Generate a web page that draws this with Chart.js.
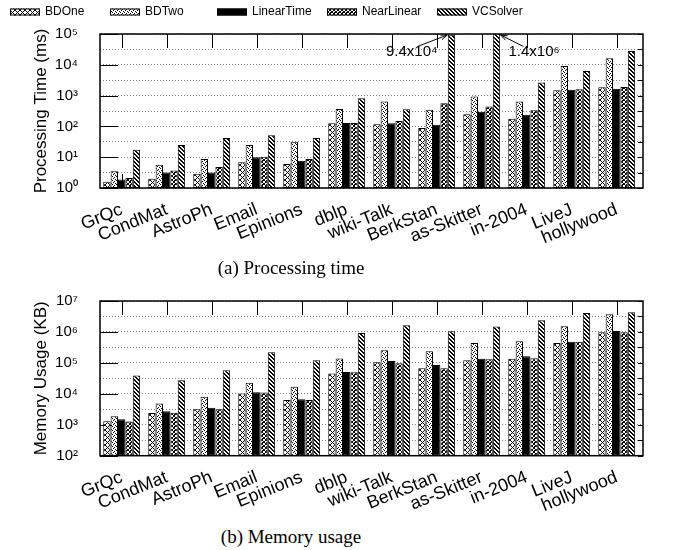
<!DOCTYPE html>
<html><head><meta charset="utf-8">
<script src="https://cdn.jsdelivr.net/npm/chart.js@4.4.1/dist/chart.umd.min.js"></script>
<style>
html,body{margin:0;padding:0;background:#fff;}
#wrap{position:relative;width:694px;height:550px;overflow:hidden;background:#fff;}
canvas{position:absolute;left:0;}
#c1{top:0;}
#c2{top:270px;}
.cap{position:absolute;left:0;width:582px;text-align:center;font-family:"Liberation Serif","Times New Roman",serif;font-size:19px;line-height:22px;color:#000;}
</style></head>
<body><div id="wrap">
<canvas id="c1" width="694" height="270"></canvas>
<canvas id="c2" width="694" height="250"></canvas>
<div class="cap" style="top:257px">(a) Processing time</div>
<div class="cap" style="top:526px">(b) Memory usage</div>
</div>
<script>
// ---------- data ----------
const categories = ['GrQc','CondMat','AstroPh','Email','Epinions','dblp','wiki-Talk','BerkStan','as-Skitter','in-2004','LiveJ','hollywood'];
const seriesNames = ['BDOne','BDTwo','LinearTime','NearLinear','VCSolver'];

const timeBDOne   = [1.6, 2.0, 2.9, 6.9, 6.0, 127, 118, 88, 250, 176, 1500, 1870];
const timeBDTwo   = [3.5, 5.7, 8.7, 25, 32, 370, 640, 345, 930, 640, 9200, 16300];
const timeLinear  = [1.9, 3.2, 3.2, 9.9, 7.7, 130, 127, 113, 298, 238, 1540, 1660];
const timeNear    = [2.1, 3.7, 4.8, 10.4, 8.7, 130, 151, 568, 443, 336, 1620, 1910];
const timeVC      = [17.5, 25, 42, 52, 42, 820, 362, 94000, 1400000, 2650, 6330, 28000];

const memBDOne    = [1310, 2380, 3200, 10300, 6260, 45000, 105000, 67000, 122000, 135000, 440000, 980000];
const memBDTwo    = [1900, 4890, 8000, 23000, 16800, 138000, 257000, 238000, 440000, 500000, 1520000, 3700000];
const memLinear   = [1520, 2750, 3530, 11300, 6700, 51000, 116000, 86000, 135000, 164000, 480000, 1070000];
const memNear     = [1280, 2440, 3200, 11000, 6260, 50000, 98000, 67000, 132000, 142000, 480000, 980000];
const memVC       = [39000, 27700, 57700, 220000, 122000, 930000, 1640000, 1050000, 1500000, 2380000, 4100000, 4300000];

const timeTicks = [1, 10, 100, 1000, 10000, 100000];
const timeTickLabels = ['10⁰','10¹','10²','10³','10⁴','10⁵'];
const memTicks = [100, 1000, 10000, 100000, 1000000, 10000000];
const memTickLabels = ['10²','10³','10⁴','10⁵','10⁶','10⁷'];

const annotations = [
  {dataset: 4, index: 7, text: '9.4x10⁴', side: 'left'},
  {dataset: 4, index: 8, text: '1.4x10⁶', side: 'right'}
];

// ---------- styling ----------
Chart.defaults.font.family = "'Liberation Sans', Arial, Helvetica, sans-serif";
Chart.defaults.color = '#000';

function makePattern(size, pixels) {
  const c = document.createElement('canvas');
  c.width = size; c.height = size;
  const g = c.getContext('2d');
  g.fillStyle = '#fff'; g.fillRect(0, 0, size, size);
  g.fillStyle = '#000';
  pixels.forEach(p => g.fillRect(p[0], p[1], 1, 1));
  return g.createPattern(c, 'repeat');
}
const patBDOne = makePattern(5, [[0,0],[1,1],[2,2],[3,3],[4,4],[4,0],[3,1],[1,3],[0,4]]);
const patBDTwo = makePattern(4, [[0,0],[2,1],[1,2],[3,3]]);
const patNear  = makePattern(4, [[0,0],[1,1],[2,2],[3,3],[3,0],[2,1],[1,2],[0,3],[2,0]]);
const patVC    = makePattern(4, [[0,0],[1,0],[1,1],[2,1],[2,2],[3,2],[3,3],[0,3]]);
const fills = [patBDOne, patBDTwo, '#000', patNear, patVC];

function buildDatasets(seriesArrays) {
  return seriesArrays.map((arr, k) => ({
    label: seriesNames[k],
    data: arr.map((v, i) => ({x: i, y: v})),
    backgroundColor: fills[k],
    borderColor: '#000',
    borderWidth: 1,
    borderSkipped: false,
    categoryPercentage: 0.82,
    barPercentage: 1.0
  }));
}

function halfDecades(decades) {
  const out = [];
  decades.forEach((d, i) => { out.push(d); if (i < decades.length - 1) out.push(d * Math.sqrt(10)); });
  return out;
}

const frameTicks = {
  id: 'frameTicks',
  beforeDatasetsDraw(chart, args, o) {
    const {ctx, chartArea: a, scales: {x, y}} = chart;
    ctx.save();
    ctx.strokeStyle = '#000'; ctx.lineWidth = 1;
    ctx.beginPath();
    categories.forEach((c, i) => {
      const px = Math.round(x.getPixelForValue(i)) + 0.5;
      ctx.moveTo(px, a.top); ctx.lineTo(px, a.top + 14);
      ctx.moveTo(px, a.bottom); ctx.lineTo(px, a.bottom - 14);
    });
    o.decades.forEach(v => {
      const py = Math.round(y.getPixelForValue(v)) + 0.5;
      ctx.moveTo(a.left, py); ctx.lineTo(a.left + 18, py);
    });
    halfDecades(o.decades).forEach(v => {
      const py = Math.round(y.getPixelForValue(v)) + 0.5;
      ctx.moveTo(a.right, py); ctx.lineTo(a.right - 5, py);
    });
    ctx.stroke();
    ctx.restore();
  },
  afterDatasetsDraw(chart) {
    const {ctx, chartArea: a} = chart;
    ctx.save();
    ctx.strokeStyle = '#000'; ctx.lineWidth = 1.5;
    ctx.strokeRect(a.left, a.top, a.right - a.left, a.bottom - a.top);
    ctx.restore();
  }
};

const patternLegend = {
  id: 'patternLegend',
  afterDraw(chart, args, o) {
    if (!o.show) return;
    const ctx = chart.ctx;
    ctx.save();
    ctx.font = "12px 'Liberation Sans', Arial, sans-serif";
    ctx.textBaseline = 'middle'; ctx.textAlign = 'left';
    chart.data.datasets.forEach((ds, i) => {
      const x0 = o.xs[i];
      ctx.fillStyle = ds.backgroundColor;
      ctx.fillRect(x0, o.y - 3.5, 30, 7);
      ctx.strokeStyle = '#000'; ctx.lineWidth = 1;
      ctx.strokeRect(x0 + 0.5, o.y - 3.5 + 0.5, 29, 6);
      ctx.fillStyle = '#000';
      ctx.fillText(ds.label, x0 + 35, o.y);
    });
    ctx.restore();
  }
};

const barNotes = {
  id: 'barNotes',
  afterDraw(chart, args, o) {
    if (!o.items) return;
    const {ctx, chartArea: a} = chart;
    ctx.save();
    ctx.font = "15px 'Liberation Sans', Arial, sans-serif";
    ctx.fillStyle = '#000'; ctx.strokeStyle = '#000'; ctx.lineWidth = 1;
    ctx.textBaseline = 'middle';
    o.items.forEach(it => {
      const bar = chart.getDatasetMeta(it.dataset).data[it.index];
      let sx, sy, tx, ty;
      if (it.side === 'left') {
        ctx.textAlign = 'right';
        ctx.fillText(it.text, bar.x - 14, a.top + 18);
        sx = bar.x - 34; sy = a.top + 12.5;
        tx = bar.x - bar.width / 2 - 0.5; ty = a.top + 1;
      } else {
        ctx.textAlign = 'left';
        ctx.fillText(it.text, bar.x + 12, a.top + 18);
        sx = bar.x + 27; sy = a.top + 12.5;
        tx = bar.x + bar.width / 2 + 0.5; ty = a.top + 1;
      }
      ctx.beginPath(); ctx.moveTo(sx, sy); ctx.lineTo(tx, ty); ctx.stroke();
      const ang = Math.atan2(ty - sy, tx - sx);
      const L = 7, sp = 0.35;
      ctx.beginPath();
      ctx.moveTo(tx - L * Math.cos(ang - sp), ty - L * Math.sin(ang - sp));
      ctx.lineTo(tx, ty);
      ctx.lineTo(tx - L * Math.cos(ang + sp), ty - L * Math.sin(ang + sp));
      ctx.stroke();
    });
    ctx.restore();
  }
};

function makeChart(canvasId, seriesArrays, decades, decadeLabels, title, padTop, xHeight, withLegend, notes) {
  const gridVals = halfDecades(decades);
  return new Chart(document.getElementById(canvasId), {
    type: 'bar',
    data: { datasets: buildDatasets(seriesArrays) },
    plugins: [frameTicks, patternLegend, barNotes],
    options: {
      responsive: false, animation: false, devicePixelRatio: 1,
      layout: { padding: { top: padTop, right: 51, left: 0, bottom: 0 } },
      plugins: {
        legend: { display: false },
        tooltip: { enabled: false },
        frameTicks: { decades: decades },
        patternLegend: { show: withLegend, xs: [10, 110, 217, 327, 437], y: 12 },
        barNotes: { items: notes }
      },
      scales: {
        x: {
          type: 'linear', min: -0.482, max: 11.584, offset: false,
          grid: { display: false }, border: { display: false },
          afterBuildTicks: s => { s.ticks = categories.map((c, i) => ({ value: i })); },
          afterFit: s => { s.height = xHeight; },
          ticks: { autoSkip: false, minRotation: 22, maxRotation: 22, padding: 3,
                   font: { size: 18 }, callback: v => categories[v] ?? '' }
        },
        y: {
          type: 'logarithmic', min: decades[0], max: decades[decades.length - 1],
          afterBuildTicks: s => { s.ticks = gridVals.map(v => ({ value: v })); },
          afterFit: s => { s.width = 100; },
          grid: { color: '#808080', lineWidth: 1, drawTicks: false },
          border: { display: false, dash: [1, 2] },
          ticks: { autoSkip: false, padding: 22, font: { size: 15 },
                   callback: v => { const k = decades.indexOf(v); return k >= 0 ? decadeLabels[k] : ''; } },
          title: { display: true, text: title, font: { size: 17 }, padding: { top: 31, bottom: 0 } }
        }
      }
    }
  });
}

makeChart('c1', [timeBDOne, timeBDTwo, timeLinear, timeNear, timeVC], timeTicks, timeTickLabels,
          'Processing Time (ms)', 34, 82, true, annotations);
makeChart('c2', [memBDOne, memBDTwo, memLinear, memNear, memVC], memTicks, memTickLabels,
          'Memory Usage (KB)', 30.7, 64.3, false, null);
</script>
</body></html>
